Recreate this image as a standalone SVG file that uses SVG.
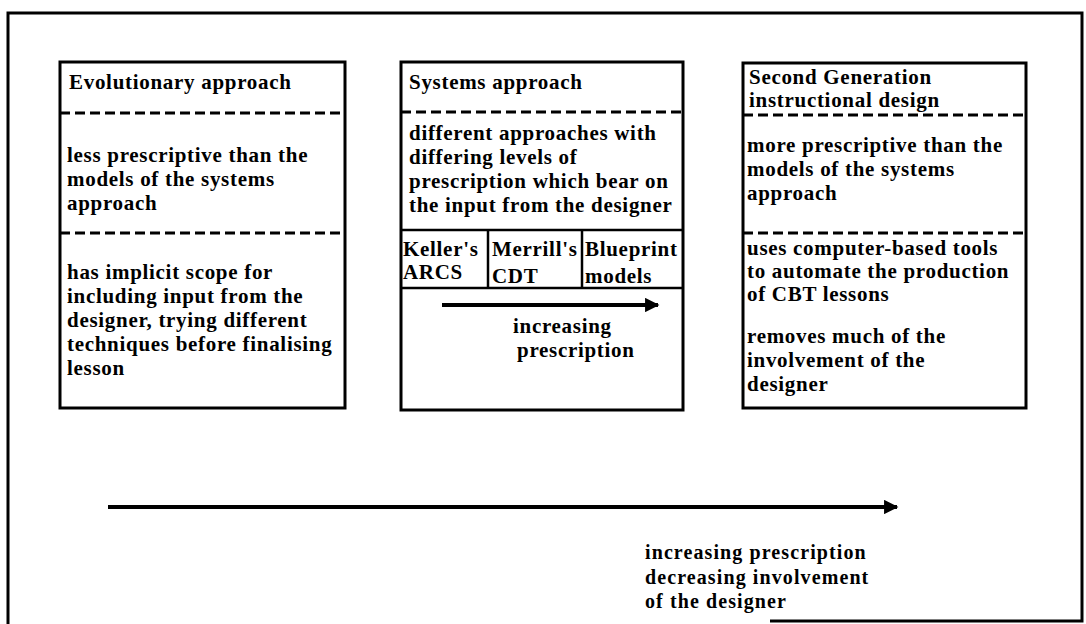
<svg xmlns="http://www.w3.org/2000/svg" width="1086" height="624" viewBox="0 0 1086 624">
  <defs>
    <marker id="arrowhead" viewBox="0 0 10 10" refX="9" refY="5" markerWidth="4" markerHeight="3.6" orient="auto" markerUnits="strokeWidth">
      <path d="M0,0 L10,5 L0,10 Z" fill="#000"/>
    </marker>
    <style>
      .frame { fill: none; stroke: #000; stroke-width: 3; }
      .box { fill: #fff; stroke: #000; stroke-width: 3; }
      .rule { stroke: #000; stroke-width: 2.5; }
      .dash { stroke: #000; stroke-width: 3; stroke-dasharray: 10 5; }
      .arrow { stroke: #000; stroke-width: 4; fill: none; marker-end: url(#arrowhead); }
      text { font-family: "Liberation Serif", "DejaVu Serif", serif; font-weight: bold; font-size: 21px; fill: #000; letter-spacing: 0.7px; }
      .caption { font-size: 20px; letter-spacing: 1.1px; }
    </style>
  </defs>
  <rect width="1086" height="624" fill="#fff"/>

  <!-- outer frame -->
  <path class="frame" d="M770,621 H1082 V13 H8 V624"/>

  <!-- left column -->
  <g id="evolutionary">
    <rect class="box" x="60" y="62" width="285" height="346"/>
    <line class="dash" x1="60" y1="113" x2="345" y2="113"/>
    <line class="dash" x1="60" y1="233" x2="345" y2="233"/>
    <text x="69" y="89">Evolutionary approach</text>
    <text x="67" y="162">less prescriptive than the</text>
    <text x="67" y="186">models of the systems</text>
    <text x="67" y="210">approach</text>
    <text x="67" y="279">has implicit scope for</text>
    <text x="67" y="303">including input from the</text>
    <text x="67" y="327">designer, trying different</text>
    <text x="67" y="351">techniques before finalising</text>
    <text x="67" y="375">lesson</text>
  </g>

  <!-- middle column -->
  <g id="systems">
    <rect class="box" x="401" y="62" width="282" height="348"/>
    <line class="dash" x1="401" y1="112" x2="683" y2="112"/>
    <line class="rule" x1="401" y1="230" x2="683" y2="230"/>
    <line class="rule" x1="401" y1="288" x2="683" y2="288"/>
    <line class="rule" x1="488" y1="230" x2="488" y2="288"/>
    <line class="rule" x1="582" y1="230" x2="582" y2="288"/>
    <text x="409" y="89">Systems approach</text>
    <text x="409" y="140">different approaches with</text>
    <text x="409" y="164">differing levels of</text>
    <text x="409" y="188">prescription which bear on</text>
    <text x="409" y="212">the input from the designer</text>
    <text x="403" y="256">Keller's</text>
    <text x="403" y="279">ARCS</text>
    <text x="492" y="256">Merrill's</text>
    <text x="492" y="283">CDT</text>
    <text x="585" y="256">Blueprint</text>
    <text x="585" y="283">models</text>
    <text x="513" y="333">increasing</text>
    <text x="517" y="357">prescription</text>
  </g>

  <!-- right column -->
  <g id="second-generation">
    <rect class="box" x="743" y="63" width="283" height="345"/>
    <line class="dash" x1="743" y1="115" x2="1026" y2="115"/>
    <line class="dash" x1="743" y1="233" x2="1026" y2="233"/>
    <text x="749" y="84">Second Generation</text>
    <text x="749" y="107">instructional design</text>
    <text x="747" y="152">more prescriptive than the</text>
    <text x="747" y="176">models of the systems</text>
    <text x="747" y="200">approach</text>
    <text x="747" y="255">uses computer-based tools</text>
    <text x="747" y="278">to automate the production</text>
    <text x="747" y="301">of CBT lessons</text>
    <text x="747" y="343">removes much of the</text>
    <text x="747" y="367">involvement of the</text>
    <text x="747" y="391">designer</text>
  </g>

  <!-- overall trend label -->
  <g id="trend-label">
    <text class="caption" x="645" y="559">increasing prescription</text>
    <text class="caption" x="645" y="584">decreasing involvement</text>
    <text class="caption" x="645" y="608">of the designer</text>
  </g>

  <!-- connectors -->
  <g id="connectors">
    <line class="arrow" x1="442" y1="305" x2="658" y2="305"/>
    <line class="arrow" x1="108" y1="507" x2="897" y2="507"/>
  </g>
</svg>
